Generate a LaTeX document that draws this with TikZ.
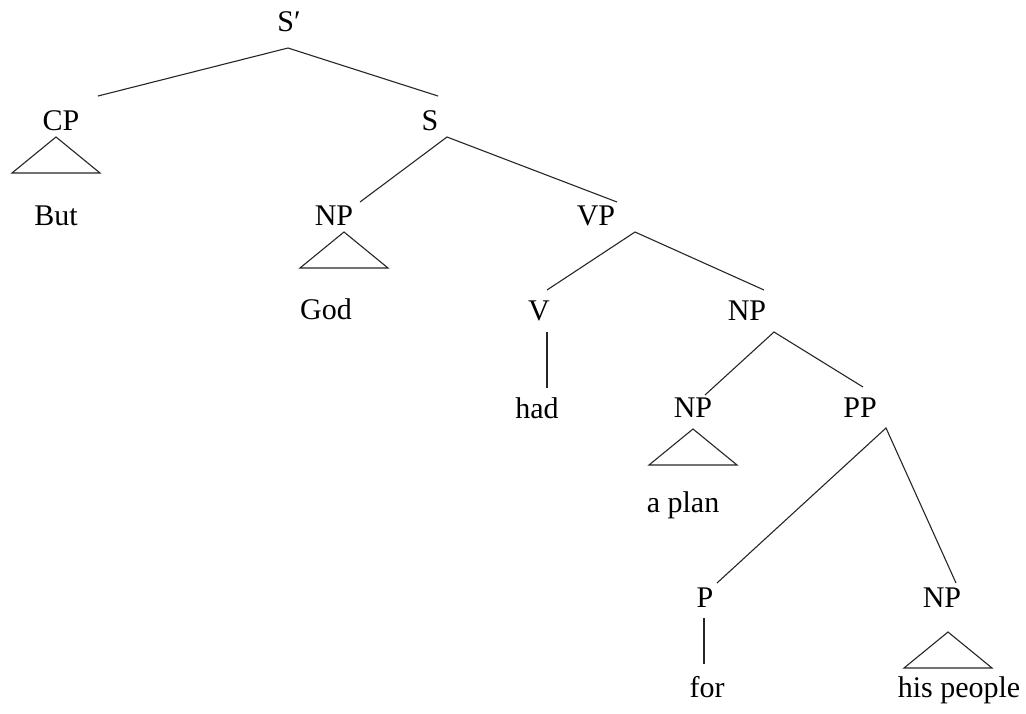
\documentclass[tikz,border=0pt]{standalone}
\usepackage{fontspec}
\setmainfont{Liberation Serif}
\usetikzlibrary{calc, positioning}
\tikzset{
    cat_node/.style={anchor=base, inner sep=0pt, text centered, font=\fontsize{30}{36}\selectfont},
    word_node/.style={anchor=base, inner sep=0pt, text centered, font=\fontsize{30}{36}\selectfont},
    branch/.style={line width=1.1pt, draw=black!85, line join=miter},
}
\newcommand{\roofat}[1]{\draw [branch] (#1) -- ++(-44,36) -- ++(88,0) -- cycle;}

\begin{document}
\begin{tikzpicture}[x=1pt, y=-1pt]
      \useasboundingbox (0,0) rectangle (1026,713);
      %%%%%%%%%%%%%%
      % Categories %
      %%%%%%%%%%%%%%
      \node (sbar) [cat_node] at (289,31) {S′};
      \node (cp) [cat_node] at (61,130) {CP};
      \node (s) [cat_node] at (430,130) {S};
      \node (np_god) [cat_node] at (334,225) {NP};
      \node (vp) [cat_node] at (596,225) {VP};
      \node (v) [cat_node] at (539,320) {V};
      \node (np_obj) [cat_node] at (747,320) {NP};
      \node (np_plan) [cat_node] at (693,417) {NP};
      \node (pp) [cat_node] at (860,417) {PP};
      \node (p) [cat_node] at (705,607) {P};
      \node (np_people) [cat_node] at (942,607) {NP};

      %%%%%%%%%
      % Words %
      %%%%%%%%%
      \node (but) [word_node] at (56,225) {But};
      \node (god) [word_node] at (326,319) {God};
      \node (had) [word_node] at (537,418) {had};
      \node (plan) [word_node] at (683,512) {a plan};
      \node (for) [word_node] at (707,697) {for};
      \node (people) [word_node] at (959,697) {his people};

      %%%%%%%%%%%%%%%%
      % Branch points %
      %%%%%%%%%%%%%%%%
      \coordinate (sbar_b) at (288,48);
      \coordinate (cp_t) at (98,96);
      \coordinate (s_t) at (438,96);
      \coordinate (s_b) at (447,137);
      \coordinate (np_god_t) at (360,202);
      \coordinate (vp_t) at (617,202);
      \coordinate (vp_b) at (635,232);
      \coordinate (v_t) at (547,290);
      \coordinate (v_b) at (547,332);
      \coordinate (had_t) at (547,388);
      \coordinate (np_obj_t) at (764,290);
      \coordinate (np_obj_b) at (774,332);
      \coordinate (np_plan_t) at (705,395);
      \coordinate (pp_t) at (863,387);
      \coordinate (pp_b) at (886,428);
      \coordinate (p_t) at (717,583);
      \coordinate (p_b) at (704,618);
      \coordinate (for_t) at (704,664);
      \coordinate (np_people_t) at (956,583);

      \draw [branch] (cp_t) -- (sbar_b) -- (s_t);
      \draw [branch] (np_god_t) -- (s_b) -- (vp_t);
      \draw [branch] (v_t) -- (vp_b) -- (np_obj_t);
      \draw [branch] (v_b) -- (had_t);
      \draw [branch] (np_plan_t) -- (np_obj_b) -- (pp_t);
      \draw [branch] (p_t) -- (pp_b) -- (np_people_t);
      \draw [branch] (p_b) -- (for_t);

      % roofs
      \roofat{56,137}
      \roofat{344,232}
      \roofat{693,429}
      \roofat{948,632}
\end{tikzpicture}
\end{document}
